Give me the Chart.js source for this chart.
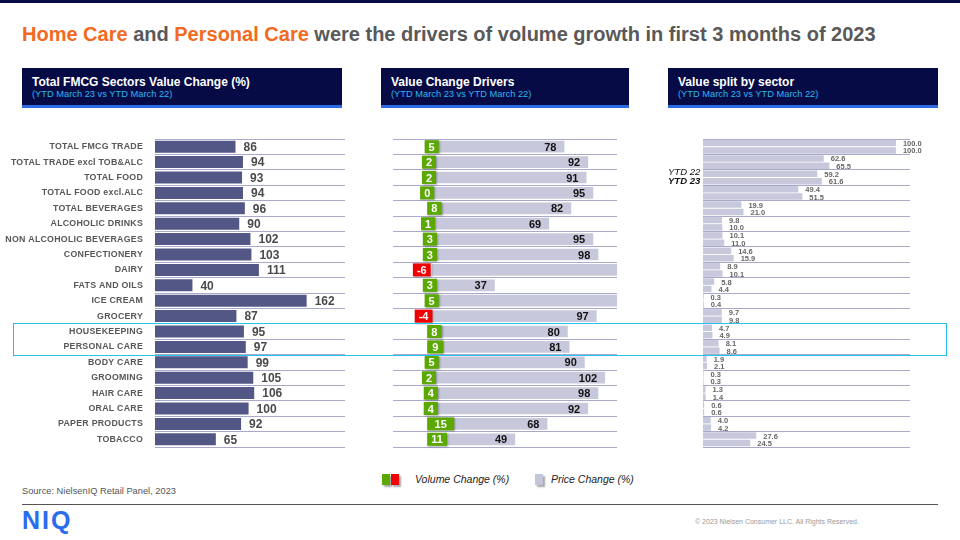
<!DOCTYPE html>
<html>
<head>
<meta charset="utf-8">
<script src="https://cdn.jsdelivr.net/npm/chart.js@4.4.0/dist/chart.umd.min.js"></script>
<style>
  body { margin: 0; width: 960px; height: 540px; position: relative; overflow: hidden; background: #fff; font-family: "Liberation Sans", Arial, sans-serif; }
  .abs { position: absolute; }
  #topbar { left: 0; top: 0; width: 960px; height: 3px; background: #060b44; }
  #title { left: 22px; top: 23px; font-size: 20px; font-weight: bold; color: #595959; white-space: nowrap; }
  #title span { color: #f26a22; }
  .head { top: 68px; height: 37px; background: #070b45; border-bottom: 3px solid #2d6be6; box-sizing: content-box; }
  .head .t { position: absolute; left: 10px; top: 7px; font-size: 12px; font-weight: bold; color: #fff; white-space: nowrap; }
  .head .s { position: absolute; left: 10px; top: 21px; font-size: 9.3px; color: #2cb6f2; white-space: nowrap; }
  .ytd { left: 668px; font-size: 9.5px; font-style: italic; color: #111; }
  #hilite { left: 13px; top: 323px; width: 932px; height: 31px; border: 1px solid #26c3ee; }
  .sq { width: 8px; height: 11px; top: 474px; box-shadow: 2px 2px 2px rgba(0,0,0,0.35); }
  .leg { top: 473px; font-size: 10.5px; font-style: italic; color: #222; }
  #source { left: 22px; top: 486px; font-size: 9.3px; color: #555; }
  #rule { left: 22px; top: 504px; width: 916px; height: 1px; background: #555; }
  #niq { left: 22px; top: 506px; font-size: 25px; font-weight: bold; color: #2a6cf0; letter-spacing: 2px; }
  #copy { left: 695px; top: 518px; font-size: 7px; color: #999; }
</style>
</head>
<body>
<div id="topbar" class="abs"></div>
<div id="title" class="abs"><span>Home Care</span> and <span>Personal Care</span> were the drivers of volume growth in first 3 months of 2023</div>

<div class="abs head" style="left:22px;width:320px;"><div class="t">Total FMCG Sectors Value Change (%)</div><div class="s">(YTD March 23 vs YTD March 22)</div></div>
<div class="abs head" style="left:381px;width:248px;"><div class="t">Value Change Drivers</div><div class="s">(YTD March 23 vs YTD March 22)</div></div>
<div class="abs head" style="left:668px;width:270px;"><div class="t">Value split by sector</div><div class="s">(YTD March 23 vs YTD March 22)</div></div>

<canvas id="valueChart" class="abs" width="360" height="330" style="left:0;top:130px;"></canvas>
<canvas id="driversChart" class="abs" width="250" height="330" style="left:380px;top:130px;"></canvas>
<canvas id="splitChart" class="abs" width="250" height="330" style="left:690px;top:130px;"></canvas>

<div class="abs ytd" style="top:166px;">YTD 22</div>
<div class="abs ytd" style="top:175px;font-weight:bold;">YTD 23</div>

<div id="hilite" class="abs"></div>

<div class="abs sq" style="left:382px;background:#5aa800;"></div>
<div class="abs sq" style="left:391px;background:#f00000;"></div>
<div class="abs leg" style="left:415px;">Volume Change (%)</div>
<div class="abs sq" style="left:535px;background:#c4c4da;"></div>
<div class="abs leg" style="left:551px;">Price Change (%)</div>

<div id="source" class="abs">Source: NielsenIQ Retail Panel, 2023</div>
<div id="rule" class="abs"></div>
<div id="niq" class="abs">NIQ</div>
<div id="copy" class="abs">© 2023 Nielsen Consumer LLC. All Rights Reserved.</div>

<script>
const FONT = "'Liberation Sans', Arial, sans-serif";

const categories = [
  "TOTAL FMCG TRADE", "TOTAL TRADE excl TOB&ALC", "TOTAL FOOD", "TOTAL FOOD excl.ALC",
  "TOTAL BEVERAGES", "ALCOHOLIC DRINKS", "NON ALCOHOLIC BEVERAGES", "CONFECTIONERY",
  "DAIRY", "FATS AND OILS", "ICE CREAM", "GROCERY", "HOUSEKEEPING", "PERSONAL CARE",
  "BODY CARE", "GROOMING", "HAIR CARE", "ORAL CARE", "PAPER PRODUCTS", "TOBACCO"
];

// Total FMCG sectors value change (%)
const valueChange = [86, 94, 93, 94, 96, 90, 102, 103, 111, 40, 162, 87, 95, 97, 99, 105, 106, 100, 92, 65];

// Value change drivers
const volumeChange = [5, 2, 2, 0, 8, 1, 3, 3, -6, 3, 5, -4, 8, 9, 5, 2, 4, 4, 15, 11];
// dairy and ice cream run past the panel edge (no label shown), estimated
const priceChange = [78, 92, 91, 95, 82, 69, 95, 98, 117, 37, 157, 97, 80, 81, 90, 102, 98, 92, 68, 49];

// Value split by sector (%)
const split22 = [100.0, 62.6, 59.2, 49.4, 19.9, 9.8, 10.1, 14.6, 8.9, 5.8, 0.3, 9.7, 4.7, 8.1, 1.9, 0.3, 1.3, 0.6, 4.0, 27.6];
const split23 = [100.0, 65.5, 61.6, 51.5, 21.0, 10.0, 11.0, 15.9, 10.1, 4.4, 0.4, 9.8, 4.9, 8.6, 2.1, 0.3, 1.4, 0.6, 4.2, 24.5];

const gridColor = "#a9a9cb";

function rowAxis(showLabels) {
  return {
    grid: { color: gridColor, lineWidth: 1, drawTicks: false, offset: true },
    border: { display: false },
    ticks: showLabels
      ? { color: "#575757", font: { family: FONT, size: 8.8, weight: "bold" }, padding: 12, autoSkip: false }
      : { display: false },
    afterFit: s => {
      s.width = showLabels ? 155 : 0;
      // keep all three panels on the same rows
      s.paddingTop = 0;
      s.paddingBottom = 0;
    }
  };
}

// wider letter spacing for the sector names, like the original slide
const spacedTicks = {
  id: "spacedTicks",
  beforeDraw(chart) { chart.ctx.letterSpacing = "0.25px"; },
  afterDraw(chart) { chart.ctx.letterSpacing = "0px"; }
};

function drawValueChart() {
  const valueLabels = {
    id: "valueLabels",
    afterDatasetsDraw(chart) {
      const ctx = chart.ctx;
      ctx.save();
      ctx.letterSpacing = "0px";
      ctx.font = "bold 12px " + FONT;
      ctx.fillStyle = "#4a4a4a";
      ctx.textBaseline = "middle";
      chart.getDatasetMeta(0).data.forEach((bar, i) => {
        ctx.fillText(valueChange[i], bar.x + 8, bar.y + 1);
      });
      ctx.restore();
    }
  };

  new Chart(document.getElementById("valueChart"), {
    type: "bar",
    data: {
      labels: categories,
      datasets: [{ data: valueChange, backgroundColor: "#535785", barPercentage: 0.78, categoryPercentage: 1 }]
    },
    options: {
      indexAxis: "y",
      responsive: false,
      animation: false,
      layout: { padding: { top: 9, bottom: 13, right: 15 } },
      plugins: { legend: { display: false }, tooltip: { enabled: false } },
      scales: {
        x: { display: false, min: 0, max: 203 },
        y: rowAxis(true)
      }
    },
    plugins: [spacedTicks, valueLabels]
  });
}

function drawDriversChart() {
  const driverLabels = {
    id: "driverLabels",
    afterDatasetsDraw(chart) {
      const ctx = chart.ctx;
      const xMax = chart.scales.x.max;
      ctx.save();
      ctx.font = "bold 11px " + FONT;
      ctx.textBaseline = "middle";

      // price labels inside the end of the grey bar
      ctx.fillStyle = "#111";
      ctx.textAlign = "right";
      chart.getDatasetMeta(0).data.forEach((bar, i) => {
        if (priceChange[i] <= xMax) ctx.fillText(priceChange[i], bar.x - 8, bar.y + 1);
      });

      // volume as labelled boxes over the bar position
      ctx.textAlign = "center";
      chart.getDatasetMeta(1).data.forEach((bar, i) => {
        const v = volumeChange[i];
        const txt = String(v);
        const center = (bar.x + bar.base) / 2;
        const w = Math.max(ctx.measureText(txt).width + 8, Math.abs(bar.x - bar.base));
        const h = 13;
        ctx.shadowColor = "rgba(0,0,0,0.3)";
        ctx.shadowBlur = 2;
        ctx.shadowOffsetX = 1;
        ctx.shadowOffsetY = 1;
        ctx.fillStyle = v < 0 ? "#f00000" : "#5aa800";
        ctx.fillRect(center - w / 2, bar.y - h / 2, w, h);
        ctx.shadowColor = "transparent";
        ctx.fillStyle = "#fff";
        ctx.fillText(txt, center, bar.y + 1);
      });
      ctx.restore();
    }
  };

  new Chart(document.getElementById("driversChart"), {
    type: "bar",
    data: {
      labels: categories,
      datasets: [
        { label: "Price Change (%)", data: priceChange, xAxisID: "x", backgroundColor: "#c8c8dc",
          grouped: false, barPercentage: 0.76, categoryPercentage: 1 },
        { label: "Volume Change (%)", data: volumeChange, xAxisID: "xv", backgroundColor: "rgba(0,0,0,0)",
          grouped: false, barPercentage: 0.85, categoryPercentage: 1 }
      ]
    },
    options: {
      indexAxis: "y",
      responsive: false,
      animation: false,
      layout: { padding: { top: 9, bottom: 13, left: 13, right: 13 } },
      plugins: { legend: { display: false }, tooltip: { enabled: false } },
      scales: {
        x: { display: false, min: -23, max: 109 },
        xv: { display: false, min: -19, max: 105.5 },
        y: rowAxis(false)
      }
    },
    plugins: [driverLabels]
  });
}

function drawSplitChart() {
  const splitLabels = {
    id: "splitLabels",
    afterDatasetsDraw(chart) {
      const ctx = chart.ctx;
      ctx.save();
      ctx.font = "bold 7.5px " + FONT;
      ctx.fillStyle = "#666";
      ctx.textBaseline = "middle";
      [split22, split23].forEach((vals, d) => {
        chart.getDatasetMeta(d).data.forEach((bar, i) => {
          ctx.fillText(vals[i].toFixed(1), bar.x + 7, bar.y + 1);
        });
      });
      ctx.restore();
    }
  };

  new Chart(document.getElementById("splitChart"), {
    type: "bar",
    data: {
      labels: categories,
      datasets: [
        { label: "YTD 22", data: split22, backgroundColor: "#c8c8dc", barPercentage: 0.88, categoryPercentage: 0.96 },
        { label: "YTD 23", data: split23, backgroundColor: "#c8c8dc", barPercentage: 0.88, categoryPercentage: 0.96 }
      ]
    },
    options: {
      indexAxis: "y",
      responsive: false,
      animation: false,
      layout: { padding: { top: 9, bottom: 13, left: 13, right: 30 } },
      plugins: { legend: { display: false }, tooltip: { enabled: false } },
      scales: {
        x: { display: false, min: 0, max: 107.3 },
        y: rowAxis(false)
      }
    },
    plugins: [splitLabels]
  });
}

drawValueChart();
drawDriversChart();
drawSplitChart();
</script>
</body>
</html>
